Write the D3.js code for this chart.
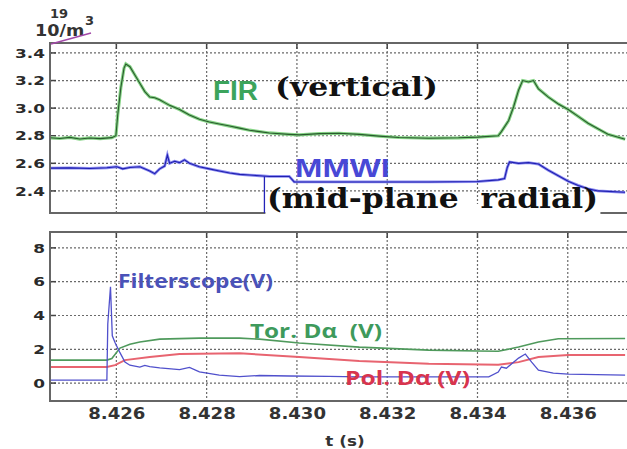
<!DOCTYPE html>
<html>
<head>
<meta charset="utf-8">
<script src="https://cdn.jsdelivr.net/npm/d3@7"></script>
</head>
<body style="margin:0">
<svg id="chart"></svg>
<script>
// time axis (s)
let t_ticks = [8.426, 8.428, 8.430, 8.432, 8.434, 8.436];
let top_ticks = [2.4, 2.6, 2.8, 3.0, 3.2, 3.4];
let bot_ticks = [0, 2, 4, 6, 8];

// line-integrated density, 10^19 /m^3  [t, value]
let fir = [
  [8.42453, 2.785], [8.42475, 2.780], [8.42497, 2.788], [8.42519, 2.776], [8.42541, 2.784],
  [8.42564, 2.779], [8.42590, 2.786], [8.42599, 2.800], [8.42603, 2.950], [8.42610, 3.150],
  [8.42617, 3.290], [8.42621, 3.320], [8.42630, 3.300], [8.42641, 3.240], [8.42652, 3.180],
  [8.42663, 3.120], [8.42674, 3.080], [8.42685, 3.075], [8.42696, 3.060], [8.42707, 3.040],
  [8.42718, 3.020], [8.42740, 2.990], [8.42762, 2.950], [8.42784, 2.920], [8.42806, 2.900],
  [8.42828, 2.885], [8.42851, 2.870], [8.42873, 2.855], [8.42895, 2.840], [8.42917, 2.830],
  [8.42939, 2.820], [8.42983, 2.810], [8.43005, 2.806], [8.43050, 2.815], [8.43093, 2.818],
  [8.43138, 2.810], [8.43182, 2.797], [8.43226, 2.787], [8.43292, 2.782], [8.43358, 2.785],
  [8.43400, 2.790], [8.43446, 2.800], [8.43453, 2.830], [8.43469, 2.910], [8.43480, 3.010],
  [8.43491, 3.130], [8.43500, 3.200], [8.43513, 3.190], [8.43524, 3.200], [8.43535, 3.140],
  [8.43557, 3.080], [8.43579, 3.030], [8.43601, 2.990], [8.43623, 2.940], [8.43645, 2.890],
  [8.43667, 2.850], [8.43689, 2.810], [8.43727, 2.775]
];
let mmwi = [
  [8.42453, 2.565], [8.42497, 2.567], [8.42541, 2.563], [8.42579, 2.568], [8.42601, 2.575],
  [8.42614, 2.560], [8.42630, 2.570], [8.42652, 2.575], [8.42674, 2.545], [8.42685, 2.525],
  [8.42696, 2.560], [8.42707, 2.580], [8.42713, 2.660], [8.42718, 2.600], [8.42729, 2.615],
  [8.42740, 2.605], [8.42751, 2.625], [8.42762, 2.600], [8.42784, 2.575], [8.42806, 2.560],
  [8.42828, 2.545], [8.42851, 2.530], [8.42873, 2.520], [8.42895, 2.515], [8.42917, 2.510],
  [8.42939, 2.505], [8.42983, 2.505], [8.42994, 2.465], [8.43093, 2.465], [8.43182, 2.465],
  [8.43292, 2.465], [8.43400, 2.468], [8.43446, 2.480], [8.43460, 2.490], [8.43466, 2.570],
  [8.43471, 2.610], [8.43491, 2.600], [8.43513, 2.605], [8.43535, 2.595], [8.43557, 2.550],
  [8.43568, 2.530], [8.43579, 2.510], [8.43601, 2.470], [8.43623, 2.440], [8.43645, 2.415],
  [8.43667, 2.400], [8.43727, 2.390]
];

// D-alpha signals (V)  [t, value]
let filterscope = [
  [8.42453, 0.18], [8.42579, 0.18], [8.42581, 3.50], [8.42587, 5.70], [8.42591, 2.80],
  [8.42597, 2.40], [8.42608, 1.80], [8.42619, 1.25], [8.42630, 1.06], [8.42652, 0.95],
  [8.42663, 1.05], [8.42674, 0.98], [8.42696, 0.90], [8.42740, 0.80], [8.42762, 0.93],
  [8.42784, 0.66], [8.42828, 0.47], [8.42873, 0.38], [8.42917, 0.45], [8.42983, 0.42],
  [8.43071, 0.40], [8.43138, 0.37], [8.43292, 0.37], [8.43425, 0.37], [8.43446, 0.65],
  [8.43453, 0.95], [8.43464, 0.88], [8.43491, 1.48], [8.43506, 1.72], [8.43520, 1.24],
  [8.43535, 0.77], [8.43568, 0.59], [8.43601, 0.53], [8.43727, 0.47]
];
let tor_da = [
  [8.42453, 1.36], [8.42579, 1.36], [8.42590, 1.45], [8.42608, 2.07], [8.42630, 2.30],
  [8.42652, 2.43], [8.42696, 2.60], [8.42784, 2.66], [8.42873, 2.66], [8.42917, 2.60],
  [8.43005, 2.37], [8.43138, 2.13], [8.43292, 1.95], [8.43400, 1.90], [8.43446, 1.88],
  [8.43491, 2.13], [8.43535, 2.43], [8.43579, 2.62], [8.43727, 2.64]
];
let pol_da = [
  [8.42453, 0.95], [8.42579, 0.95], [8.42597, 1.06], [8.42619, 1.36], [8.42674, 1.54],
  [8.42740, 1.72], [8.42828, 1.75], [8.42873, 1.76], [8.43005, 1.54], [8.43138, 1.30],
  [8.43292, 1.14], [8.43446, 1.08], [8.43491, 1.24], [8.43535, 1.54], [8.43601, 1.66],
  [8.43727, 1.66]
];

const width = 627, height = 449;
const svg = d3.select('#chart').attr('width', width).attr('height', height);
const defs = svg.append('defs');

let left = 50, right = 640;
let top_box = { top: 43, bottom: 213 };
let bot_box = { top: 232, bottom: 401 };

let x = d3.scaleLinear([8.42453, 8.4376], [left, right]);
let yTop = d3.scaleLinear([2.24, 3.472], [top_box.bottom, top_box.top]);
let yBot = d3.scaleLinear([-1.06, 8.94], [bot_box.bottom, bot_box.top]);

let grid_color = '#6a6a6a';

// stretch text horizontally (the original picture is widened)
function stretch(sel, k) {
  sel.each(function () {
    let l = this.getComputedTextLength();
    this.setAttribute('textLength', l * k);
    this.setAttribute('lengthAdjust', 'spacingAndGlyphs');
  });
}

defs.append('clipPath').attr('id', 'clipTop')
  .append('rect').attr('x', left).attr('y', top_box.top)
  .attr('width', right - left).attr('height', top_box.bottom - top_box.top);
defs.append('clipPath').attr('id', 'clipBot')
  .append('rect').attr('x', left).attr('y', bot_box.top)
  .attr('width', right - left).attr('height', bot_box.bottom - bot_box.top);

// dotted grid and short inward ticks (under the traces)
function grid(box, y, ticks) {
  let g = svg.append('g');
  g.selectAll('line.h').data(ticks).enter().append('line')
    .attr('class', 'h')
    .attr('x1', left).attr('x2', right)
    .attr('y1', d => y(d)).attr('y2', d => y(d))
    .attr('stroke', grid_color).attr('stroke-width', 1.2).attr('stroke-dasharray', '2,2');
  g.selectAll('line.v').data(t_ticks).enter().append('line')
    .attr('class', 'v')
    .attr('x1', d => x(d)).attr('x2', d => x(d))
    .attr('y1', box.top).attr('y2', box.bottom)
    .attr('stroke', grid_color).attr('stroke-width', 1.2).attr('stroke-dasharray', '2,2');
  g.selectAll('line.ty').data(ticks).enter().append('line')
    .attr('class', 'ty')
    .attr('x1', left).attr('x2', left + 6)
    .attr('y1', d => y(d)).attr('y2', d => y(d))
    .attr('stroke', '#444').attr('stroke-width', 1.5);
  g.selectAll('line.tx').data(t_ticks).enter().append('line')
    .attr('class', 'tx')
    .attr('x1', d => x(d)).attr('x2', d => x(d))
    .attr('y1', box.top).attr('y2', box.top + 6)
    .attr('stroke', '#444').attr('stroke-width', 1.5);
}
grid(top_box, yTop, top_ticks);
grid(bot_box, yBot, bot_ticks);

// traces
let lineTop = d3.line().x(d => x(d[0])).y(d => yTop(d[1]));
let lineBot = d3.line().x(d => x(d[0])).y(d => yBot(d[1]));

let gt = svg.append('g').attr('clip-path', 'url(#clipTop)');
gt.append('path').datum(fir).attr('d', lineTop)
  .attr('fill', 'none').attr('stroke', '#86d486').attr('stroke-width', 3.2);
gt.append('path').datum(fir).attr('d', lineTop)
  .attr('fill', 'none').attr('stroke', '#2a5a2e').attr('stroke-width', 1.1);
gt.append('path').datum(mmwi).attr('d', lineTop)
  .attr('fill', 'none').attr('stroke', '#8a8af0').attr('stroke-width', 2.8);
gt.append('path').datum(mmwi).attr('d', lineTop)
  .attr('fill', 'none').attr('stroke', '#2020b0').attr('stroke-width', 1.1);

let gb = svg.append('g').attr('clip-path', 'url(#clipBot)');
gb.append('path').datum(tor_da).attr('d', lineBot)
  .attr('fill', 'none').attr('stroke', '#4f9a5c').attr('stroke-width', 1.6);
gb.append('path').datum(pol_da).attr('d', lineBot)
  .attr('fill', 'none').attr('stroke', '#e86470').attr('stroke-width', 2);
gb.append('path').datum(filterscope).attr('d', lineBot)
  .attr('fill', 'none').attr('stroke', '#5050cc').attr('stroke-width', 1.3);

// frames and y labels
function frame(box, y, ticks, fmt) {
  svg.append('rect').attr('x', left).attr('y', box.top)
    .attr('width', right - left).attr('height', box.bottom - box.top)
    .attr('fill', 'none').attr('stroke', '#666').attr('stroke-width', 2);

  let ya = svg.append('g')
    .attr('transform', `translate(${left - 5},0)`)
    .call(d3.axisLeft(y).tickValues(ticks).tickSize(0).tickPadding(0).tickFormat(fmt));
  ya.select('.domain').remove();
  ya.selectAll('text')
    .attr('font-family', 'DejaVu Sans').attr('font-weight', 'bold')
    .attr('font-size', 13).attr('fill', '#2a2a2a');
  stretch(ya.selectAll('text'), 1.3);
}
frame(top_box, yTop, top_ticks, d3.format('.1f'));
frame(bot_box, yBot, bot_ticks, d3.format('d'));

// x axis labels
let xa = svg.append('g')
  .attr('transform', `translate(0,${bot_box.bottom + 7})`)
  .call(d3.axisBottom(x).tickValues(t_ticks).tickSize(0).tickPadding(0).tickFormat(d3.format('.3f')));
xa.select('.domain').remove();
xa.selectAll('text')
  .attr('font-family', 'DejaVu Sans').attr('font-weight', 'bold')
  .attr('font-size', 16).attr('fill', '#333');
stretch(xa.selectAll('text'), 1.13);

let tl = svg.append('text').attr('x', 345).attr('y', 446).attr('text-anchor', 'middle')
  .attr('font-family', 'DejaVu Sans').attr('font-weight', 'bold')
  .attr('font-size', 14).attr('fill', '#333').text('t (s)');
stretch(tl, 1.2);

// unit label
let unit = svg.append('g').attr('font-family', 'DejaVu Sans').attr('font-weight', 'bold').attr('fill', '#333');
unit.append('text').attr('x', 50).attr('y', 18).attr('font-size', 13).text('19');
stretch(unit.append('text').attr('x', 35).attr('y', 36).attr('font-size', 16).text('10/m'), 1.1);
unit.append('text').attr('x', 85).attr('y', 25).attr('font-size', 13).text('3');
svg.append('line').attr('x1', left + 1).attr('y1', top_box.top + 1)
  .attr('x2', 91).attr('y2', 33).attr('stroke', '#a248a8').attr('stroke-width', 1.5);

// annotations
function label(px, py, txt, opts) {
  return svg.append('text').attr('x', px).attr('y', py)
    .attr('font-family', opts.font).attr('font-weight', 'bold')
    .attr('font-size', opts.size).attr('fill', opts.color)
    .attr('textLength', opts.len).attr('lengthAdjust', 'spacingAndGlyphs')
    .style('white-space', 'pre')
    .text(txt);
}

label(213, 100, 'FIR', { font: 'Liberation Sans', size: 27, color: '#3ca45c', len: 45 });
label(275, 96, '(vertical)', { font: 'DejaVu Serif', size: 26, color: '#111', len: 163 });
label(295, 177, 'MMWI', { font: 'Liberation Sans', size: 26, color: '#4848d6', len: 95 });

svg.append('rect').attr('x', x(8.42928) + 1).attr('y', 204).attr('width', 335).attr('height', 18).attr('fill', '#fff');
svg.append('line')
  .attr('x1', x(8.42928)).attr('x2', x(8.42928))
  .attr('y1', yTop(2.505)).attr('y2', top_box.bottom)
  .attr('stroke', '#2323b8').attr('stroke-width', 1.3);
label(267, 208, '(mid-plane  radial)', { font: 'DejaVu Serif', size: 27, color: '#111', len: 331 });

label(118, 288, 'Filterscope(V)', { font: 'Open Sans', size: 19, color: '#4a52b8', len: 155 });
label(250, 338, 'Tor. D\u03b1  (V)', { font: 'Open Sans', size: 19, color: '#3e9a5c', len: 132 });
label(345, 385, 'Pol. D\u03b1 (V)', { font: 'Open Sans', size: 19, color: '#d8344e', len: 125 });
</script>
</body>
</html>
